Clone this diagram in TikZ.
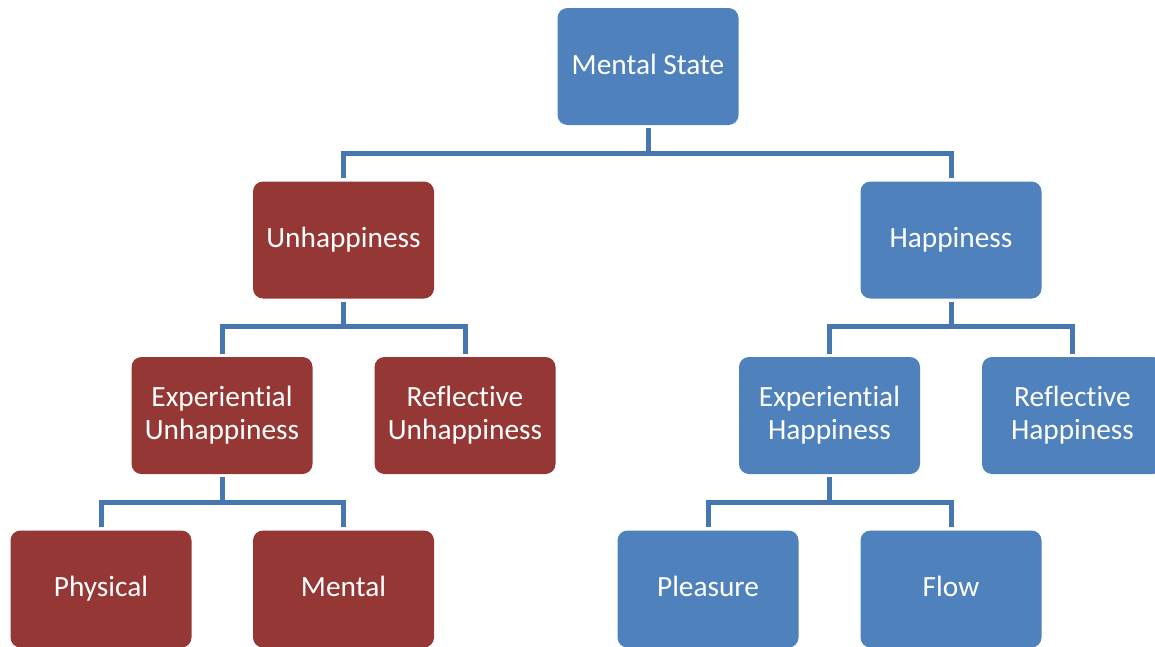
\documentclass[tikz,border=0pt]{standalone}
\usepackage{fontspec}
\setmainfont{Carlito}[Ligatures=NoCommon]
\usepackage{tikz}
\usepackage{xcolor}

\definecolor{boxblue}{HTML}{4F81BD}
\definecolor{boxred}{HTML}{953735}
\definecolor{linkblue}{HTML}{4677B0}

\tikzset{
  box/.style={rounded corners=7.5pt, minimum width=135.75pt, minimum height=87.75pt,
    inner sep=2pt, align=center, text=white,
    font=\fontsize{22pt}{24.75pt}\selectfont},
  oneline/.style={text height=13.5pt, text depth=2.25pt},
  bluebox/.style={box, fill=boxblue},
  redbox/.style={box, fill=boxred},
  link/.style={draw=linkblue, line width=3.75pt, shorten <=2.25pt, shorten >=2.25pt}
}

\begin{document}
\begin{tikzpicture}[x=0.75pt,y=-0.75pt]
\useasboundingbox (0,0) rectangle (1155,646);
\node[bluebox,oneline] (ms) at (648,66.5) {Mental State};
\node[redbox,oneline] (unh) at (343.5,240) {Unhappiness};
\node[bluebox,oneline] (hap) at (951,240) {Happiness};
\node[redbox] (expunh) at (222,415.5) {Experiential\\Unhappiness};
\node[redbox] (refunh) at (465,415.5) {Reflective\\Unhappiness};
\node[bluebox] (exphap) at (829.5,415.5) {Experiential\\Happiness};
\node[bluebox] (refhap) at (1072.5,415.5) {Reflective\\Happiness};
\node[redbox,oneline] (phys) at (101,589) {Physical};
\node[redbox,oneline] (ment) at (343.5,589) {Mental};
\node[bluebox,oneline] (pleas) at (708,589) {Pleasure};
\node[bluebox,oneline] (flow) at (951,589) {Flow};

% tree links
\draw[link] (ms.south) -- ++(0,28) -| (unh.north);
\draw[link] (ms.south) -- ++(0,28) -| (hap.north);
\draw[link] (unh.south) -- ++(0,28) -| (expunh.north);
\draw[link] (unh.south) -- ++(0,28) -| (refunh.north);
\draw[link] (hap.south) -- ++(0,28) -| (exphap.north);
\draw[link] (hap.south) -- ++(0,28) -| (refhap.north);
\draw[link] (expunh.south) -- ++(0,28) -| (phys.north);
\draw[link] (expunh.south) -- ++(0,28) -| (ment.north);
\draw[link] (exphap.south) -- ++(0,28) -| (pleas.north);
\draw[link] (exphap.south) -- ++(0,28) -| (flow.north);
\end{tikzpicture}
\end{document}
